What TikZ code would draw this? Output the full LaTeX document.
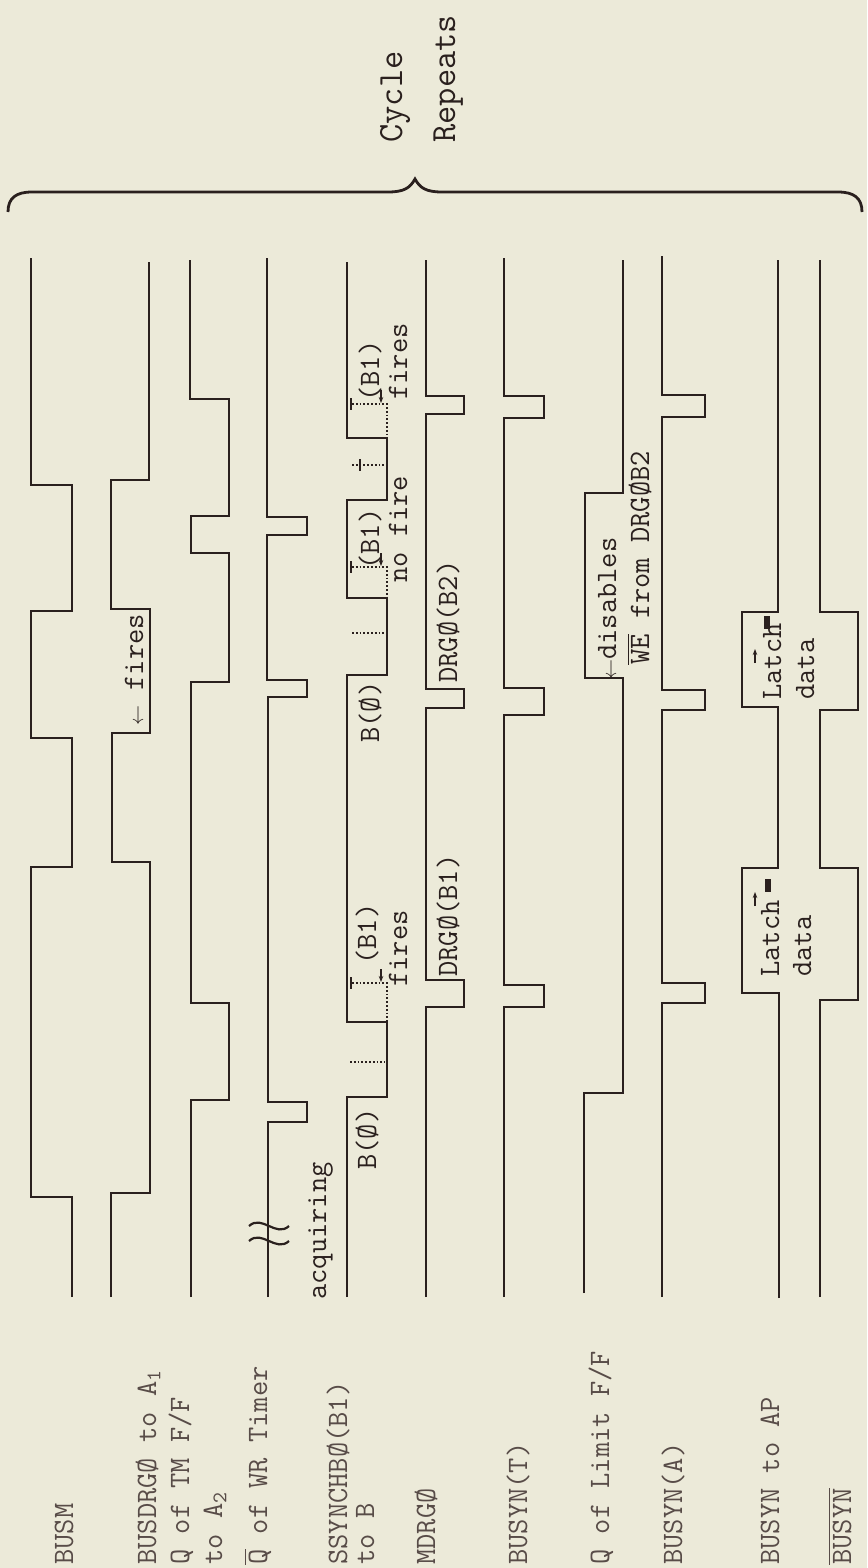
\documentclass[tikz,border=0pt]{standalone}
\usepackage{fontspec}
\usetikzlibrary{arrows.meta}
\newfontfamily\tw{Latin Modern Mono}
\definecolor{paper}{RGB}{236,234,217}
\definecolor{ink}{RGB}{42,32,30}
\definecolor{faint}{RGB}{88,76,72}
\newcommand{\ovl}[1]{$\overline{\mbox{#1}}$}
\newcommand{\larr}{$\scriptstyle\leftarrow$}
\begin{document}
\begin{tikzpicture}[x=0.5pt, y=-0.5pt,
    sig/.style={ink, line width=1.3pt},
    dots/.style={ink, densely dotted, line width=0.9pt},
    tick/.style={ink, line width=1pt},
    arr/.style={ink, line width=0.7pt, -{Stealth[length=3pt]}},
    lab/.style={rotate=90, anchor=base west, inner sep=0pt, text=faint, font=\tw\fontsize{14.8}{17}\selectfont},
    note/.style={rotate=90, anchor=base west, inner sep=0pt, text=ink, font=\tw\fontsize{14.8}{17}\selectfont}]
    \fill [paper] (0, 0) rectangle (867, 1568);
    \useasboundingbox (0, 0) rectangle (867, 1568);
    \node [note, font=\tw\fontsize{17.7}{20}\selectfont] (cycle) at (402, 143) {Cycle};
    \node [note, font=\tw\fontsize{17.7}{20}\selectfont] (repeats) at (455, 143) {Repeats};
    \draw [ink, line width=1.4pt] (8, 212) .. controls (8, 198) and (16, 192) .. (32, 192) -- (388, 192)
        .. controls (404, 192) and (410, 188) .. (415, 179) .. controls (420, 188) and (426, 192) .. (442, 192)
        -- (838, 192) .. controls (854, 192) and (862, 198) .. (862, 212);
    \draw [sig] (72, 1297) -- (72, 1197) -- (31, 1197) -- (31, 867) -- (72, 867) -- (72, 738) -- (31, 738)
        -- (31, 611) -- (72, 611) -- (72, 485) -- (31, 485) -- (31, 258);
    \draw [sig] (111, 1297) -- (111, 1193) -- (150, 1193) -- (150, 862) -- (112, 862) -- (112, 733) -- (150, 733)
        -- (150, 609) -- (111, 609) -- (111, 480) -- (149, 480) -- (149, 262);
    \draw [sig] (191, 1297) -- (191, 1100) -- (229, 1100) -- (229, 1003) -- (191, 1003) -- (191, 682) -- (229, 682)
        -- (229, 553) -- (191, 553) -- (191, 516) -- (229, 516) -- (229, 399) -- (190, 399) -- (190, 260);
    \draw [sig] (268, 1297) -- (268, 1122) -- (307, 1122) -- (307, 1102) -- (268, 1102) -- (268, 697) -- (307, 697)
        -- (307, 680) -- (267, 680) -- (267, 535) -- (307, 535) -- (307, 517) -- (267, 517) -- (267, 258);
    \draw [sig, line width=1.1pt] (249, 1226) .. controls (262, 1214) and (276, 1238) .. (289, 1226);
    \draw [sig, line width=1.1pt] (249, 1241) .. controls (262, 1229) and (276, 1253) .. (289, 1241);
    \draw [sig] (347, 1297) -- (347, 1097) -- (387, 1097) -- (387, 1022) -- (347, 1022) -- (347, 675) -- (387, 675)
        -- (387, 598) -- (347, 598) -- (347, 500) -- (387, 500) -- (387, 438) -- (347, 438) -- (347, 262);
    \draw [dots] (350, 1062) -- (385, 1062);
    \draw [dots] (352, 983) -- (387, 983) -- (387, 1022);
    \draw [dots] (352, 633) -- (385, 633);
    \draw [dots] (352, 567) -- (387, 567) -- (387, 598);
    \draw [dots] (352, 465) -- (385, 465);
    \draw [dots] (352, 404) -- (387, 404) -- (387, 438);
    \draw [tick] (351, 977) -- (351, 989);
    \draw [tick] (351, 561) -- (351, 573);
    \draw [tick] (360, 459) -- (360, 471);
    \draw [tick] (351, 398) -- (351, 410);
    \draw [arr] (381, 969) -- (381, 982);
    \draw [arr] (381, 553) -- (381, 566);
    \draw [arr] (381, 390) -- (381, 403);
    \draw [sig] (426, 1297) -- (426, 1007) -- (464, 1007) -- (464, 980) -- (426, 980) -- (426, 708) -- (464, 708)
        -- (464, 689) -- (426, 689) -- (426, 414) -- (464, 414) -- (464, 396) -- (426, 396) -- (426, 260);
    \draw [sig] (504, 1297) -- (504, 1007) -- (544, 1007) -- (544, 985) -- (504, 985) -- (504, 715) -- (544, 715)
        -- (544, 688) -- (504, 688) -- (504, 418) -- (544, 418) -- (544, 396) -- (504, 396) -- (504, 258);
    \draw [sig] (584, 1293) -- (584, 1093) -- (623, 1093) -- (623, 678) -- (585, 678) -- (585, 493) -- (623, 493)
        -- (623, 260);
    \draw [sig] (662, 1297) -- (662, 1003) -- (705, 1003) -- (705, 983) -- (662, 983) -- (662, 710) -- (705, 710)
        -- (705, 690) -- (662, 690) -- (662, 417) -- (705, 417) -- (705, 395) -- (662, 395) -- (662, 256);
    \draw [sig] (779, 1298) -- (779, 993) -- (742, 993) -- (742, 868) -- (778, 868) -- (778, 707) -- (742, 707)
        -- (742, 612) -- (778, 612) -- (778, 260);
    \draw [sig] (820, 1297) -- (820, 1000) -- (858, 1000) -- (858, 868) -- (820, 868) -- (820, 710) -- (858, 710)
        -- (858, 612) -- (820, 612) -- (820, 260);
    \draw [arr] (755, 906) -- (755, 892);
    \draw [ink, line width=3pt] (768, 879) -- (768, 892);
    \draw [arr] (755, 663) -- (755, 649);
    \draw [ink, line width=3pt] (767, 616) -- (767, 629);
    \node [note] (acquiring) at (326, 1300) {acquiring};
    \node [note] (bzeroA) at (376, 1170) {B(Ø)};
    \node [note] (bzeroB) at (379, 743) {B(Ø)};
    \node [note] (boneA) at (376, 965) {(B1)};
    \node [note] (firesA) at (407, 987) {fires};
    \node [note] (boneB) at (379, 570) {(B1)};
    \node [note] (nofire) at (407, 583) {no fire};
    \node [note] (boneC) at (379, 402) {(B1)};
    \node [note] (firesC) at (407, 400) {fires};
    \node [note] (drgA) at (457, 977) {DRGØ(B1)};
    \node [note] (drgB) at (457, 683) {DRGØ(B2)};
    \node [note] (firesBus) at (143, 726) {\larr{} fires};
    \node [note] (disables) at (616, 680) {\larr{}disables};
    \node [note] (wefrom) at (649, 665) {\ovl{WE} from DRGØB2};
    \node [note] (latchA) at (779, 977) {Latch};
    \node [note] (dataA) at (811, 977) {data};
    \node [note] (latchB) at (781, 700) {Latch};
    \node [note] (dataB) at (814, 700) {data};
    \node [lab] (busm) at (73, 1565) {BUSM};
    \node [lab] (busdrg) at (156, 1565) {BUSDRGØ to A\textsubscript{1}};
    \node [lab] (qtm) at (189, 1565) {Q of TM F/F};
    \node [lab] (qtmto) at (222, 1565) {to A\textsubscript{2}};
    \node [lab] (qwr) at (267, 1565) {\ovl{Q} of WR Timer};
    \node [lab] (ssynch) at (347, 1565) {SSYNCHBØ(B1)};
    \node [lab] (ssynchto) at (374, 1565) {to B};
    \node [lab] (mdrg) at (435, 1565) {MDRGØ};
    \node [lab] (busynt) at (527, 1565) {BUSYN(T)};
    \node [lab] (qlimit) at (609, 1565) {Q of Limit F/F};
    \node [lab] (busyna) at (682, 1565) {BUSYN(A)};
    \node [lab] (busynap) at (779, 1565) {BUSYN to AP};
    \node [lab] (busynbar) at (851, 1565) {\ovl{BUSYN}};
\end{tikzpicture}
\end{document}
